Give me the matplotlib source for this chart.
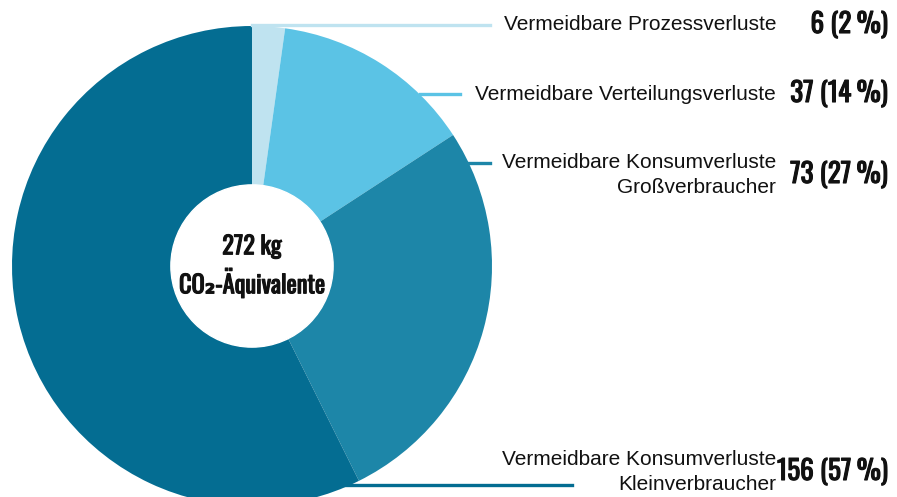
import matplotlib
matplotlib.use("Agg")
import matplotlib.pyplot as plt
import matplotlib.patheffects as pe

categories = ["Vermeidbare Prozessverluste",
              "Vermeidbare Verteilungsverluste",
              "Vermeidbare Konsumverluste\nGroßverbraucher",
              "Vermeidbare Konsumverluste\nKleinverbraucher"]
values = [6, 37, 73, 156]
percents = [2, 14, 27, 57]
total_label = "272 kg"
unit_label = "CO\u2082-Äquivalente"
colors = ["#bfe3f0", "#5bc3e5", "#1d86a8", "#046d92"]

W, H = 897, 497
fig = plt.figure(figsize=(W / 100, H / 100), dpi=100)

# pie geometry in pixels
cx, cy, R = 252, 266, 240
ax = fig.add_axes([(cx - R) / W, (H - cy - R) / H, 2 * R / W, 2 * R / H])
wedges, _ = ax.pie(values, colors=colors, startangle=90, counterclock=False,
                   radius=1, wedgeprops=dict(linewidth=0))
ax.set_xlim(-1, 1)
ax.set_ylim(-1, 1)
ax.set_aspect("equal")
ax.axis("off")
for w in wedges:
    w.set_clip_on(False)
ax.add_patch(plt.Circle((0, 0), 0.338, color="white", zorder=5, clip_on=False))

bold = [pe.withStroke(linewidth=0.8, foreground="#111111")]
cond = dict(family=["Oswald", "Barlow Condensed", "DejaVu Sans"],
            fontweight="bold", path_effects=bold)
ax.text(0, 0.08, total_label, ha="center", va="center", fontsize=17.5,
        color="#111111", zorder=6, **cond)
ax.text(0, -0.072, unit_label, ha="center", va="center", fontsize=17.5,
        color="#111111", zorder=6, **cond)

# leader lines (pixel coordinates -> figure fraction)
lines = [((252, 490), 25), ((420, 460), 94), ((468, 490), 163), ((335, 572), 485)]
for i, ((x0, x1), y) in enumerate(lines):
    fig.add_artist(plt.Line2D([x0 / W, x1 / W], [1 - y / H, 1 - y / H],
                              color=colors[i], linewidth=2.4, zorder=10))

label_y = [25, 94, 175, 472]
for i, cat in enumerate(categories):
    y = 1 - label_y[i] / H
    fig.text(776 / W, y, cat, ha="right", va="center", fontsize=15,
             family="Liberation Sans", color="#111111", linespacing=1.35)
    fig.text(888 / W, y, f"{values[i]} ({percents[i]}\u2009%)", ha="right",
             va="center", fontsize=19.5, color="#111111", **cond)

fig.savefig("out.png", dpi=100)
